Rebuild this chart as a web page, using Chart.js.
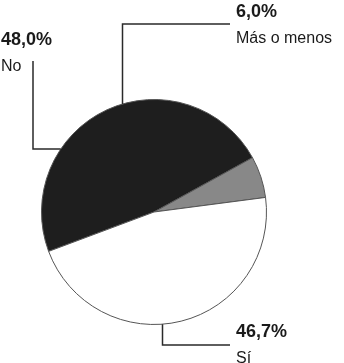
<!doctype html>
<html lang="es">
    <head>
        <meta charset="UTF-8" />
        <title>Encuesta</title>
        <style>
            html, body { margin: 0; padding: 0; background: #fff; }
            .chartBox { width: 344px; height: 363px; }
        </style>
    </head>
    <body>
        <div class="chartBox">
            <canvas id="myChart" width="344" height="363"></canvas>
        </div>

        <script src="https://cdn.jsdelivr.net/npm/chart.js"></script>
        <script>
            // data
            const labels = ["No", "Más o menos", "Sí"];
            const values = [48.0, 6.0, 46.7];
            const valueText = ["48,0%", "6,0%", "46,7%"];
            const colors = ["#1e1e1e", "#888888", "#ffffff"];

            // leader lines: anchor angle on the rim (deg, canvas), elbow path, text spot
            const callouts = [
                { angle: 214, path: [[33, 149], [33, 61]], tx: 1, ty: 45 },
                { angle: 253.6, path: [[122, 24], [230, 24]], tx: 236, ty: 17 },
                { angle: 86, path: [[162, 345], [230, 345]], tx: 236, ty: 337 },
            ];

            // plugin
            const callout = {
                id: "callout",
                afterDraw(chart) {
                    const { ctx } = chart;
                    const arc = chart.getDatasetMeta(0).data[0];
                    const cx = arc.x, cy = arc.y, r = arc.outerRadius;
                    ctx.save();
                    ctx.strokeStyle = "#2a2a2a";
                    ctx.lineWidth = 1.5;
                    callouts.forEach((c, i) => {
                        const a = (c.angle * Math.PI) / 180;
                        const ax = cx + r * Math.cos(a);
                        const ay = cy + r * Math.sin(a);
                        ctx.beginPath();
                        ctx.moveTo(i === 0 ? ax : Math.round(ax) + 0.5, ay);
                        if (i === 0) {
                            ctx.lineTo(c.path[0][0], ay);
                            ctx.lineTo(c.path[1][0], c.path[1][1]);
                        } else {
                            ctx.lineTo(Math.round(ax) + 0.5, c.path[0][1]);
                            ctx.lineTo(c.path[1][0], c.path[1][1]);
                        }
                        ctx.stroke();

                        ctx.fillStyle = "#1a1a1a";
                        ctx.textAlign = "left";
                        ctx.textBaseline = "alphabetic";
                        ctx.font = "bold 18px 'Liberation Sans', Arial, sans-serif";
                        ctx.fillText(valueText[i], c.tx, c.ty);
                        ctx.font = "16px 'Liberation Sans', Arial, sans-serif";
                        ctx.fillText(labels[i], c.tx, c.ty + 26);
                    });
                    ctx.restore();
                },
            };

            // config
            const config = {
                type: "pie",
                data: {
                    labels: labels,
                    datasets: [
                        {
                            data: values,
                            backgroundColor: colors,
                            borderColor: "#555555",
                            borderWidth: 1,
                        },
                    ],
                },
                options: {
                    responsive: false,
                    animation: false,
                    rotation: 249.5,
                    layout: { padding: { left: 41, top: 99, right: 77, bottom: 38 } },
                    plugins: {
                        legend: { display: false },
                        tooltip: { enabled: false },
                    },
                },
                plugins: [callout],
            };

            // init
            var ctx = document.getElementById("myChart").getContext("2d");
            new Chart(ctx, config);
        </script>
    </body>
</html>
